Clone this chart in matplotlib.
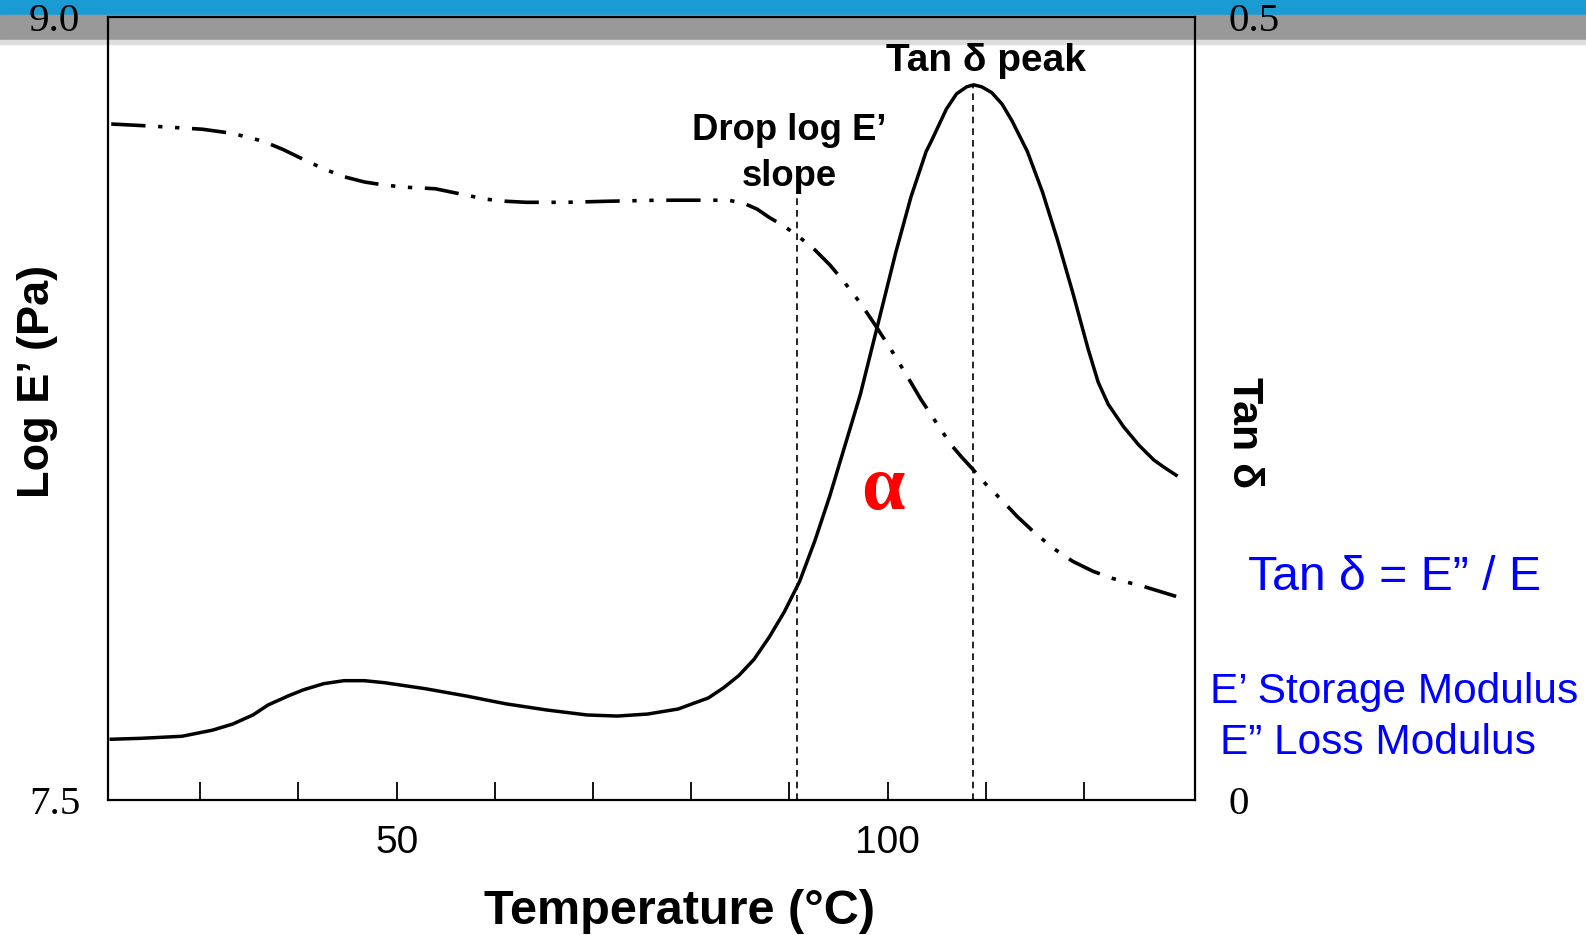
import matplotlib
matplotlib.use("Agg")
import matplotlib.pyplot as plt
from matplotlib.patches import Rectangle

# DMA sweep: storage modulus (log E') and damping (tan delta) vs temperature
temp_logE = [20.93, 25.05, 30.21, 33.30, 36.39, 38.45, 40.52, 42.58, 44.64, 46.70,
             48.76, 50.82, 53.92, 56.49, 59.07, 61.13, 63.20, 67.32, 71.44, 76.60,
             81.75, 83.81, 85.36, 86.70, 87.94, 89.48, 91.03, 92.58, 94.12, 95.67,
             97.22, 98.76, 100.31, 101.86, 103.40, 104.95, 106.49, 107.53, 108.56,
             110.10, 111.65, 113.20, 114.74, 116.80, 118.87, 120.93, 122.99, 126.08,
             129.38]
log_E = [8.795, 8.791, 8.785, 8.777, 8.762, 8.746, 8.727, 8.709, 8.694, 8.684,
         8.678, 8.674, 8.671, 8.661, 8.651, 8.647, 8.645, 8.645, 8.647, 8.649,
         8.649, 8.649, 8.643, 8.632, 8.616, 8.599, 8.578, 8.554, 8.525, 8.490,
         8.452, 8.409, 8.364, 8.316, 8.267, 8.223, 8.180, 8.157, 8.136, 8.103,
         8.074, 8.043, 8.016, 7.983, 7.957, 7.938, 7.924, 7.909, 7.890]

temp_tan = [20.93, 24.02, 28.14, 31.24, 33.30, 35.36, 36.91, 38.97, 40.52, 42.58,
            44.64, 46.70, 48.76, 52.89, 57.01, 61.13, 65.26, 69.38, 72.47, 75.57,
            78.66, 81.75, 83.30, 84.85, 86.39, 87.94, 89.48, 91.03, 92.58, 94.12,
            95.67, 97.22, 98.25, 99.28, 100.82, 102.37, 103.92, 104.43, 105.98,
            107.01, 108.04, 108.76, 109.59, 110.62, 111.65, 112.68, 114.23, 115.77,
            117.32, 118.87, 120.41, 121.44, 122.47, 124.02, 125.57, 127.11, 128.14,
            129.38]
tan_delta = [0.0388, 0.0394, 0.0407, 0.0446, 0.0485, 0.0543, 0.0607, 0.0665, 0.0704,
             0.0743, 0.0762, 0.0762, 0.0749, 0.0711, 0.0665, 0.0614, 0.0575, 0.0543,
             0.0536, 0.0549, 0.0581, 0.0652, 0.0717, 0.0795, 0.0898, 0.1040, 0.1202,
             0.1395, 0.1654, 0.1944, 0.2267, 0.2590, 0.2849, 0.3107, 0.3495, 0.3850,
             0.4141, 0.4205, 0.4412, 0.4509, 0.4554, 0.4567, 0.4554, 0.4516, 0.4444,
             0.4335, 0.4141, 0.3882, 0.3572, 0.3236, 0.2881, 0.2668, 0.2526, 0.2384,
             0.2267, 0.2171, 0.2125, 0.2074]

x_ticks = [30, 40, 50, 60, 70, 80, 90, 100, 110, 120]
x_labels = ["", "", "50", "", "", "", "", "100", "", ""]
drop_temp = 90.8
peak_temp = 108.7

W, H = 1586, 935
fig = plt.figure(figsize=(W / 100, H / 100), dpi=100)

def fx(px):
    return px / W

def fy(py):
    return 1 - py / H

# slide header bands
fig.add_artist(Rectangle((0, fy(15)), 1, 15 / H, transform=fig.transFigure,
                         color="#1a9bd3", zorder=0))
fig.add_artist(Rectangle((0, fy(40)), 1, 25 / H, transform=fig.transFigure,
                         color="#999999", zorder=0))
fig.add_artist(Rectangle((0, fy(44)), 1, 4 / H, transform=fig.transFigure,
                         color="#dddddd", zorder=0))

ax = fig.add_axes([fx(108), fy(800), fx(1195) - fx(108), fy(17) - fy(800)])
ax.patch.set_visible(False)
ax.set_xlim(20.6, 131.3)
ax.set_ylim(7.5, 9.0)

ax.plot(temp_logE, log_E, color="black", lw=2.6, solid_capstyle="butt",
        dash_joinstyle="round", dashes=(9.5, 3.5, 1.2, 3.5, 1.2, 3.5))

ax2 = ax.twinx()
ax2.set_ylim(0, 0.5)
ax2.plot(temp_tan, tan_delta, color="black", lw=2.5, solid_joinstyle="round")

ax2.axvline(drop_temp, ymin=0, ymax=0.778, color="black", lw=1.2, ls=(0, (4, 3)))
ax2.axvline(peak_temp, ymin=0, ymax=0.915, color="black", lw=1.2, ls=(0, (4, 3)))

for s in ax.spines.values():
    s.set_linewidth(1.6)
ax2.spines[:].set_visible(False)

ax.set_xticks(x_ticks, labels=x_labels)
ax.tick_params(axis="x", direction="in", length=13, width=1.3, pad=18,
               labelsize=28)
for lbl in ax.get_xticklabels():
    lbl.set_family("Liberation Sans")

ax.set_yticks([7.5, 9.0], labels=["7.5", "9.0"])
ax.tick_params(axis="y", length=0, pad=20, labelsize=29.5)
for lbl in ax.get_yticklabels():
    lbl.set_family("Liberation Serif")

ax2.set_yticks([0, 0.5], labels=["0", "0.5"])
ax2.tick_params(axis="y", length=0, pad=24, labelsize=29.5)
for lbl in ax2.get_yticklabels():
    lbl.set_family("Liberation Serif")
    lbl.set_horizontalalignment("left")

bold = dict(family="Liberation Sans", fontweight="bold", color="black")
fig.text(fx(680), fy(911), "Temperature (°C)", fontsize=35, ha="center", va="center", **bold)
fig.text(fx(38), fy(381), "Log E’ (Pa)", fontsize=32.5, rotation=90, ha="center", va="center", **bold)
fig.text(fx(1244), fy(433), "Tan δ", fontsize=31, rotation=270, ha="center", va="center", **bold)
fig.text(fx(986), fy(61), "Tan δ peak", fontsize=28, ha="center", va="center", **bold)
fig.text(fx(789), fy(130), "Drop log E’", fontsize=26.3, ha="center", va="center", **bold)
fig.text(fx(789), fy(177), "slope", fontsize=26.3, ha="center", va="center", **bold)

fig.text(fx(883), fy(491), "α", fontsize=56, color="red", family="Liberation Serif",
         fontweight="bold", ha="center", va="center")

blue = dict(family="Liberation Sans", color="blue", va="center")
fig.text(fx(1394), fy(577), "Tan δ = E” / E", fontsize=34.7, ha="center", **blue)
fig.text(fx(1394), fy(692), "E’ Storage Modulus", fontsize=30.5, ha="center", **blue)
fig.text(fx(1378), fy(743), "E” Loss Modulus", fontsize=30.5, ha="center", **blue)

fig.savefig("out.png", dpi=100)
